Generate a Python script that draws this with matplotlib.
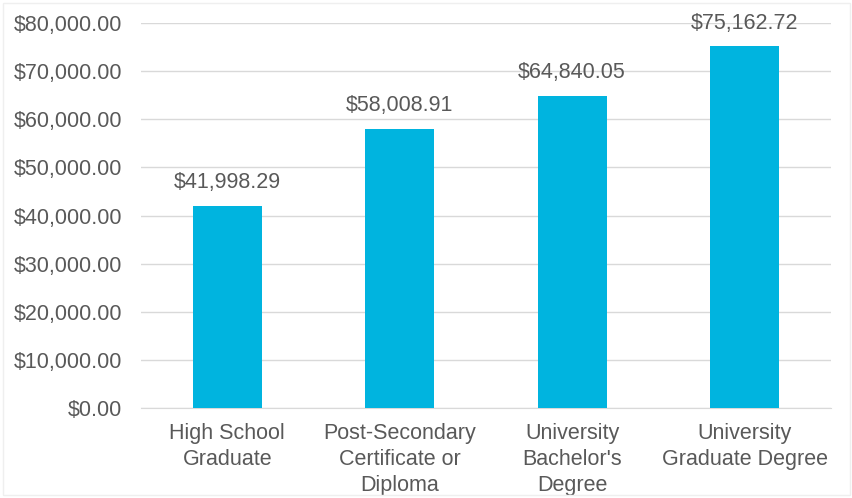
import matplotlib
matplotlib.use("Agg")
import matplotlib.pyplot as plt
from matplotlib.ticker import FuncFormatter, MultipleLocator
from matplotlib.patches import Rectangle

categories = ["High School\nGraduate", "Post-Secondary\nCertificate or\nDiploma",
              "University\nBachelor's\nDegree", "University\nGraduate Degree"]
values = [41998.29, 58008.91, 64840.05, 75162.72]

plt.rcParams['font.family'] = ['Liberation Sans', 'DejaVu Sans']
txt = '#595959'
fs = 15.5

fig = plt.figure(figsize=(8.53, 4.98), dpi=100)
fig.patches.append(Rectangle((0.004, 0.006), 0.992, 0.988, transform=fig.transFigure,
                             fill=False, edgecolor='#efefef', linewidth=1))
ax = fig.add_axes([0.1653, 0.1807, 0.8087, 0.7731])
x = range(len(categories))
bars = ax.bar(x, values, width=0.4, color='#00B4DF', zorder=3)
ax.set_xlim(-0.5, 3.5)
ax.set_ylim(0, 80000)
ax.yaxis.set_major_locator(MultipleLocator(10000))
ax.yaxis.set_major_formatter(FuncFormatter(lambda v, p: f"${v:,.2f}"))
ax.grid(axis='y', color='#d9d9d9', linewidth=1, zorder=0)
for s in ['top', 'right', 'left']:
    ax.spines[s].set_visible(False)
ax.spines['bottom'].set_color('#d9d9d9')
ax.tick_params(axis='both', length=0, labelsize=fs, labelcolor=txt)
ax.tick_params(axis='y', pad=13.5)
ax.tick_params(axis='x', pad=11)
ax.set_xticks(list(x))
ax.set_xticklabels(categories, linespacing=1.3)
for xi, v in zip(x, values):
    ax.annotate(f"${v:,.2f}", (xi, v), xytext=(0, 9), textcoords='offset points',
                ha='center', va='bottom', fontsize=fs, color=txt)
fig.savefig("out.png", dpi=100)
